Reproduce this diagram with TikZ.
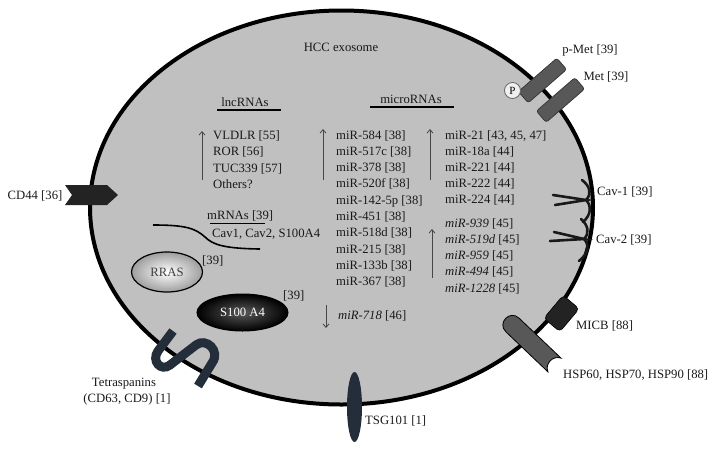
\documentclass[tikz,border=0pt]{standalone}
\usepackage{fontspec}
\setmainfont{Liberation Serif}
\usetikzlibrary{shapes.geometric,arrows.meta}
\definecolor{cellgray}{RGB}{192,192,192}
\definecolor{metgray}{RGB}{88,88,88}
\definecolor{darkprot}{RGB}{35,35,35}
\definecolor{navyprot}{RGB}{36,46,58}
\definecolor{arrowgray}{RGB}{70,70,70}
\definecolor{txtcol}{RGB}{25,25,25}
\begin{document}
\begin{tikzpicture}[x=1pt,y=-1pt,
  lbl/.style={font=\fontsize{12.7}{15}\selectfont, inner sep=0pt, text=txtcol},
  lst/.style={lbl, anchor=base west},
  regarrow/.style={draw=arrowgray, line width=0.8pt, -{Straight Barb[length=3.5pt,width=6pt]}},
  uline/.style={draw=black, line width=1.3pt},
  cavline/.style={draw=black!90, line width=2.6pt, line cap=round},
  metbox/.style={rectangle, rounded corners=2.5pt, draw=black!80, line width=0.7pt, fill=metgray, minimum width=51pt, minimum height=15pt, inner sep=0pt}
]
\useasboundingbox (0,0) rectangle (716,451);

% exosome membrane
\node[ellipse, draw=black, line width=4pt, fill=cellgray, minimum width=503pt, minimum height=394pt, inner sep=0pt] (cell) at (341.5,207.5) {};

% title
\node[lbl, anchor=base] (title) at (341,51) {HCC exosome};

% lncRNAs
\node[lbl, anchor=base] (lnc) at (245,106) {lncRNAs};
\coordinate (lncA) at (217,110); \coordinate (lncB) at (281,110);
\draw[uline] (lncA) -- (lncB);
\node[lst] (vldlr) at (213,139) {VLDLR [55]};
\node[lst] (ror) at (213,155.5) {ROR [56]};
\node[lst] (tuc) at (213,172) {TUC339 [57]};
\node[lst] (others) at (213,188.5) {Others?};
\coordinate (lncUp0) at (202,180); \coordinate (lncUp1) at (202,131);
\draw[regarrow] (lncUp0) -- (lncUp1);

% mRNAs
\node[lst] (mrna) at (207,219) {mRNAs [39]};
\coordinate (mrA) at (210,223.5); \coordinate (mrB) at (265,223.5);
\draw[uline] (mrA) -- (mrB);
\node[lst] (cavlist) at (212,237) {Cav1, Cav2, S100A4};
\coordinate (cvA) at (153,225); \coordinate (cvB) at (205,237); \coordinate (cvC) at (260,249);
\draw[line width=1.6pt] (cvA) .. controls (185,225) and (195,228) .. (cvB) .. controls (213,245) and (225,248.5) .. (cvC);

% RRAS and S100A4
\node[ellipse, draw=black, line width=1.2pt, inner color=white, outer color=black!38, minimum width=71pt, minimum height=40pt, inner sep=0pt, font=\fontsize{12.7}{15}\selectfont, text=black!75] (rras) at (167,272) {RRAS};
\node[lst] (rrasref) at (202,264) {[39]};
\node[ellipse, draw=black, line width=1pt, inner color=black!65, outer color=black, minimum width=91pt, minimum height=37pt, inner sep=0pt, font=\fontsize{12.7}{15}\selectfont, text=white] (s100) at (242.5,312.5) {S100 A4};
\node[lst] (s100ref) at (283,299) {[39]};

% microRNAs
\node[lbl, anchor=base] (micro) at (411,103) {microRNAs};
\coordinate (miA) at (370,107); \coordinate (miB) at (454,107);
\draw[uline] (miA) -- (miB);
\node[lst] (m1) at (336,139) {miR-584 [38]};
\node[lst] (m2) at (336,155.3) {miR-517c [38]};
\node[lst] (m3) at (336,171.6) {miR-378 [38]};
\node[lst] (m4) at (336,187.9) {miR-520f [38]};
\node[lst] (m5) at (336,204.2) {miR-142-5p [38]};
\node[lst] (m6) at (336,220.5) {miR-451 [38]};
\node[lst] (m7) at (336,236.8) {miR-518d [38]};
\node[lst] (m8) at (336,253.1) {miR-215 [38]};
\node[lst] (m9) at (336,269.4) {miR-133b [38]};
\node[lst] (m10) at (336,285.7) {miR-367 [38]};
\node[lst] (m718) at (338,319) {\itshape miR-718\upshape\ [46]};

\node[lst] (r1) at (445,139) {miR-21 [43, 45, 47]};
\node[lst] (r2) at (445,155) {miR-18a [44]};
\node[lst] (r3) at (445,171) {miR-221 [44]};
\node[lst] (r4) at (445,187) {miR-222 [44]};
\node[lst] (r5) at (445,203) {miR-224 [44]};
\node[lst] (r6) at (445,227) {\itshape miR-939\upshape\ [45]};
\node[lst] (r7) at (445,243.3) {\itshape miR-519d\upshape\ [45]};
\node[lst] (r8) at (445,259.6) {\itshape miR-959\upshape\ [45]};
\node[lst] (r9) at (445,275.9) {\itshape miR-494\upshape\ [45]};
\node[lst] (r10) at (445,292.2) {\itshape miR-1228\upshape\ [45]};

\coordinate (aL0) at (323,180); \coordinate (aL1) at (323,129);
\draw[regarrow] (aL0) -- (aL1);
\coordinate (aR0) at (430,180); \coordinate (aR1) at (430,129);
\draw[regarrow] (aR0) -- (aR1);
\coordinate (aS0) at (432,278); \coordinate (aS1) at (432,229);
\draw[regarrow] (aS0) -- (aS1);
\coordinate (aD0) at (326,305); \coordinate (aD1) at (326,328);
\draw[regarrow] (aD0) -- (aD1);

% CD44
\fill[darkprot] (65,185) -- (107,185) -- (118,195) -- (107,205) -- (65,205) -- (72,195) -- cycle;
\coordinate (cd44) at (90,195);
\node[lbl, anchor=base] (cd44l) at (35,199) {CD44 [36]};

% Met receptors
\node[metbox, rotate=41] (pmet) at (542.5,80.5) {};
\node[metbox, rotate=41] (met) at (560.5,100) {};
\node[circle, draw=black!60, line width=0.8pt, fill=black!6, minimum size=16pt, inner sep=0pt, font=\fontsize{11}{13}\selectfont] (pcirc) at (512.5,90.5) {P};
\node[lbl, anchor=base] (pmetl) at (590,53) {p-Met [39]};
\node[lbl, anchor=base] (metl) at (606,80) {Met [39]};

% Caveolins
\coordinate (j1) at (586,200);
\draw[cavline] (553,195) -- (j1) -- (555,205);
\draw[cavline] (j1) .. controls (592,194) and (590,186) .. (582,180);
\draw[cavline] (j1) .. controls (592,206) and (591,215) .. (583,222);
\coordinate (j2) at (584,239);
\draw[cavline] (554,232) -- (j2) -- (550,241);
\draw[cavline] (j2) .. controls (590,233) and (588,225) .. (581,219);
\draw[cavline] (j2) .. controls (590,245) and (588,254) .. (579,261);
\node[lst] (cav1l) at (597,195) {Cav-1 [39]};
\node[lst] (cav2l) at (596,243) {Cav-2 [39]};

% MICB
\node[rectangle, rounded corners=4pt, fill=darkprot, draw=black, line width=0.6pt, minimum width=30pt, minimum height=21pt, inner sep=0pt, rotate=50] (micb) at (561.5,313.5) {};
\node[lst] (micbl) at (576,329) {MICB [88]};

% HSP
\begin{scope}[shift={(533.5,345)}, rotate=-43.6]
\draw[fill=metgray, draw=black, line width=0.8pt] (29,-9.5) -- (-29,-9.5) .. controls (-41.7,-9.5) and (-41.7,9.5) .. (-29,9.5) -- (29,9.5) .. controls (21,6) and (21,-6) .. (29,-9.5) -- cycle;
\end{scope}
\coordinate (hsp) at (533.5,345);
\node[lst] (hspl) at (563,378) {HSP60, HSP70, HSP90 [88]};

% TSG101
\node[ellipse, fill=navyprot, minimum width=15pt, minimum height=70pt, inner sep=0pt] (tsg) at (354.5,407) {};
\node[lst] (tsgl) at (365,424) {TSG101 [1]};

% Tetraspanins
\draw[navyprot, line width=9pt] (173,331) -- (158,351) .. controls (151,361) and (161,372) .. (170,365) -- (196,345) .. controls (206,337) and (221,351) .. (212,363) -- (198,386);
\coordinate (tetra) at (185,355);
\node[lbl, anchor=base] (tetral1) at (124,386) {Tetraspanins};
\node[lbl, anchor=base] (tetral2) at (127,402) {(CD63, CD9) [1]};
\end{tikzpicture}
\end{document}
